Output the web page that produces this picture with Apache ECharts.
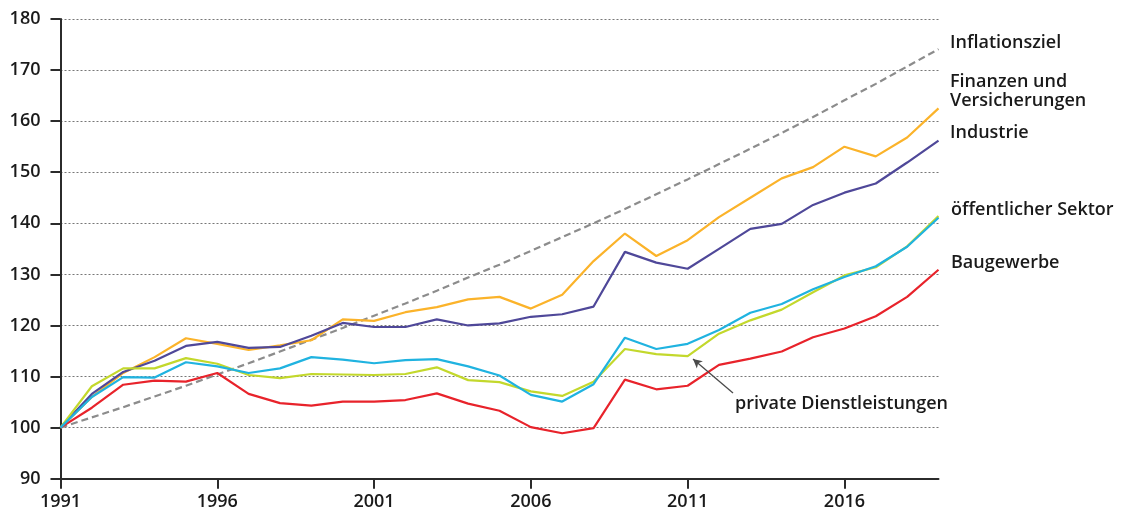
<!DOCTYPE html>
<html>
<head>
<meta charset="utf-8">
<script src="https://cdn.jsdelivr.net/npm/echarts@6/dist/echarts.min.js"></script>
<style>
  html, body { margin: 0; padding: 0; background: #fff; }
  #chart-container { width: 1122px; height: 515px; }
</style>
</head>
<body>
<div id="chart-container"></div>
<script>
const years = ["1991", "1992", "1993", "1994", "1995", "1996", "1997", "1998", "1999", "2000",
  "2001", "2002", "2003", "2004", "2005", "2006", "2007", "2008", "2009", "2010",
  "2011", "2012", "2013", "2014", "2015", "2016", "2017", "2018", "2019"];

const inflationsziel = [100, 102, 104, 106.1, 108.2, 110.4, 112.6, 114.9, 117.2, 119.5,
  121.9, 124.3, 126.8, 129.4, 131.9, 134.6, 137.3, 140.0, 142.8, 145.7,
  148.6, 151.6, 154.6, 157.7, 160.8, 164.1, 167.3, 170.7, 174.1];
const finanzen = [100, 106.0, 110.7, 113.8, 117.5, 116.4, 115.2, 116.1, 117.1, 121.2,
  120.9, 122.6, 123.6, 125.1, 125.6, 123.3, 126.0, 132.6, 138.0, 133.6,
  136.7, 141.2, 145.0, 148.8, 151.0, 155.0, 153.1, 156.8, 162.5];
const industrie = [100, 106.6, 110.9, 113.1, 116.0, 116.8, 115.6, 115.8, 118.0, 120.5,
  119.7, 119.7, 121.2, 120.0, 120.4, 121.7, 122.2, 123.7, 134.4, 132.3,
  131.1, 135.0, 138.9, 139.9, 143.6, 146.0, 147.8, 151.9, 156.2];
const privateDl = [100, 108.1, 111.6, 111.6, 113.6, 112.5, 110.3, 109.7, 110.5, 110.4,
  110.3, 110.5, 111.8, 109.3, 108.9, 107.1, 106.2, 109.0, 115.4, 114.4,
  114.0, 118.4, 121.0, 123.1, 126.5, 129.8, 131.4, 135.5, 141.4];
const oeffentlich = [100, 106.0, 109.9, 109.8, 112.8, 112.0, 110.7, 111.6, 113.8, 113.3,
  112.6, 113.2, 113.4, 112.0, 110.2, 106.4, 105.1, 108.5, 117.6, 115.4,
  116.4, 119.1, 122.5, 124.2, 127.1, 129.5, 131.6, 135.4, 141.1];
const baugewerbe = [100, 103.9, 108.4, 109.2, 109.0, 110.7, 106.6, 104.8, 104.3, 105.1,
  105.1, 105.4, 106.7, 104.7, 103.3, 100.1, 98.9, 99.9, 109.4, 107.5,
  108.2, 112.3, 113.5, 114.9, 117.7, 119.4, 121.8, 125.6, 130.9];

(() => {
  const font = "'Open Sans', 'Noto Sans', sans-serif";
  const textColor = "#1a1a1a";
  const weight = 600;
  var dom = document.getElementById("chart-container");
  var chart = echarts.init(dom, null, { renderer: "canvas" });

  const line = (name, data, color, z) => ({
    name: name,
    type: "line",
    data: data,
    color: color,
    symbol: "none",
    z: z,
    lineStyle: { width: 2.2, color: color },
    emphasis: { disabled: true },
  });

  const label = (text, x, y) => ({
    type: "text",
    x: x,
    y: y,
    style: {
      text: text,
      fill: textColor,
      fontSize: 18,
      fontWeight: weight,
      fontFamily: font,
      lineHeight: 19,
      verticalAlign: "middle",
    },
  });

  const option = {
    animation: false,
    grid: { left: 60.5, right: 183.5, top: 19, bottom: 36.3 },
    xAxis: {
      type: "category",
      data: years,
      boundaryGap: false,
      axisLine: { lineStyle: { color: "#2b2b2b", width: 2 } },
      axisTick: { interval: 4, length: 10, lineStyle: { color: "#2b2b2b", width: 2 } },
      axisLabel: { interval: 4, margin: 14, fontSize: 18, fontWeight: weight, color: textColor, fontFamily: font },
      splitLine: { show: false },
    },
    yAxis: {
      type: "value",
      min: 90,
      max: 180,
      interval: 10,
      axisLine: { show: true, lineStyle: { color: "#2b2b2b", width: 2 } },
      axisTick: { show: true, length: 10, lineStyle: { color: "#2b2b2b", width: 2 } },
      axisLabel: { margin: 20, fontSize: 18, fontWeight: weight, color: textColor, fontFamily: font },
      splitLine: { lineStyle: { color: "#777", type: [2, 2], width: 1 } },
    },
    series: [
      Object.assign(line("Inflationsziel", inflationsziel, "#8c8c8c", 2), {
        lineStyle: { width: 2.2, color: "#8c8c8c", type: [7, 4] },
      }),
      line("Finanzen und Versicherungen", finanzen, "#fbb32a", 3),
      line("Industrie", industrie, "#4f4899", 3),
      line("private Dienstleistungen", privateDl, "#c3d82c", 3),
      Object.assign(line("öffentlicher Sektor", oeffentlich, "#20b3e0", 4), {
        markLine: {
          silent: true,
          symbol: ["none", "arrow"],
          symbolSize: [7, 9],
          label: { show: false },
          lineStyle: { color: "#4a4a4a", width: 1.3, type: "solid" },
          data: [[{ x: 733, y: 393 }, { x: 693, y: 359 }]],
        },
      }),
      line("Baugewerbe", baugewerbe, "#e8232b", 3),
    ],
    graphic: [
      label("Inflationsziel", 950, 43),
      label("Finanzen und\nVersicherungen", 950, 91),
      label("Industrie", 950, 133),
      label("öffentlicher Sektor", 951, 210),
      label("Baugewerbe", 951, 263),
      label("private Dienstleistungen", 735, 404),
    ],
  };

  chart.setOption(option);
  window.addEventListener("resize", chart.resize);
})();
</script>
</body>
</html>
